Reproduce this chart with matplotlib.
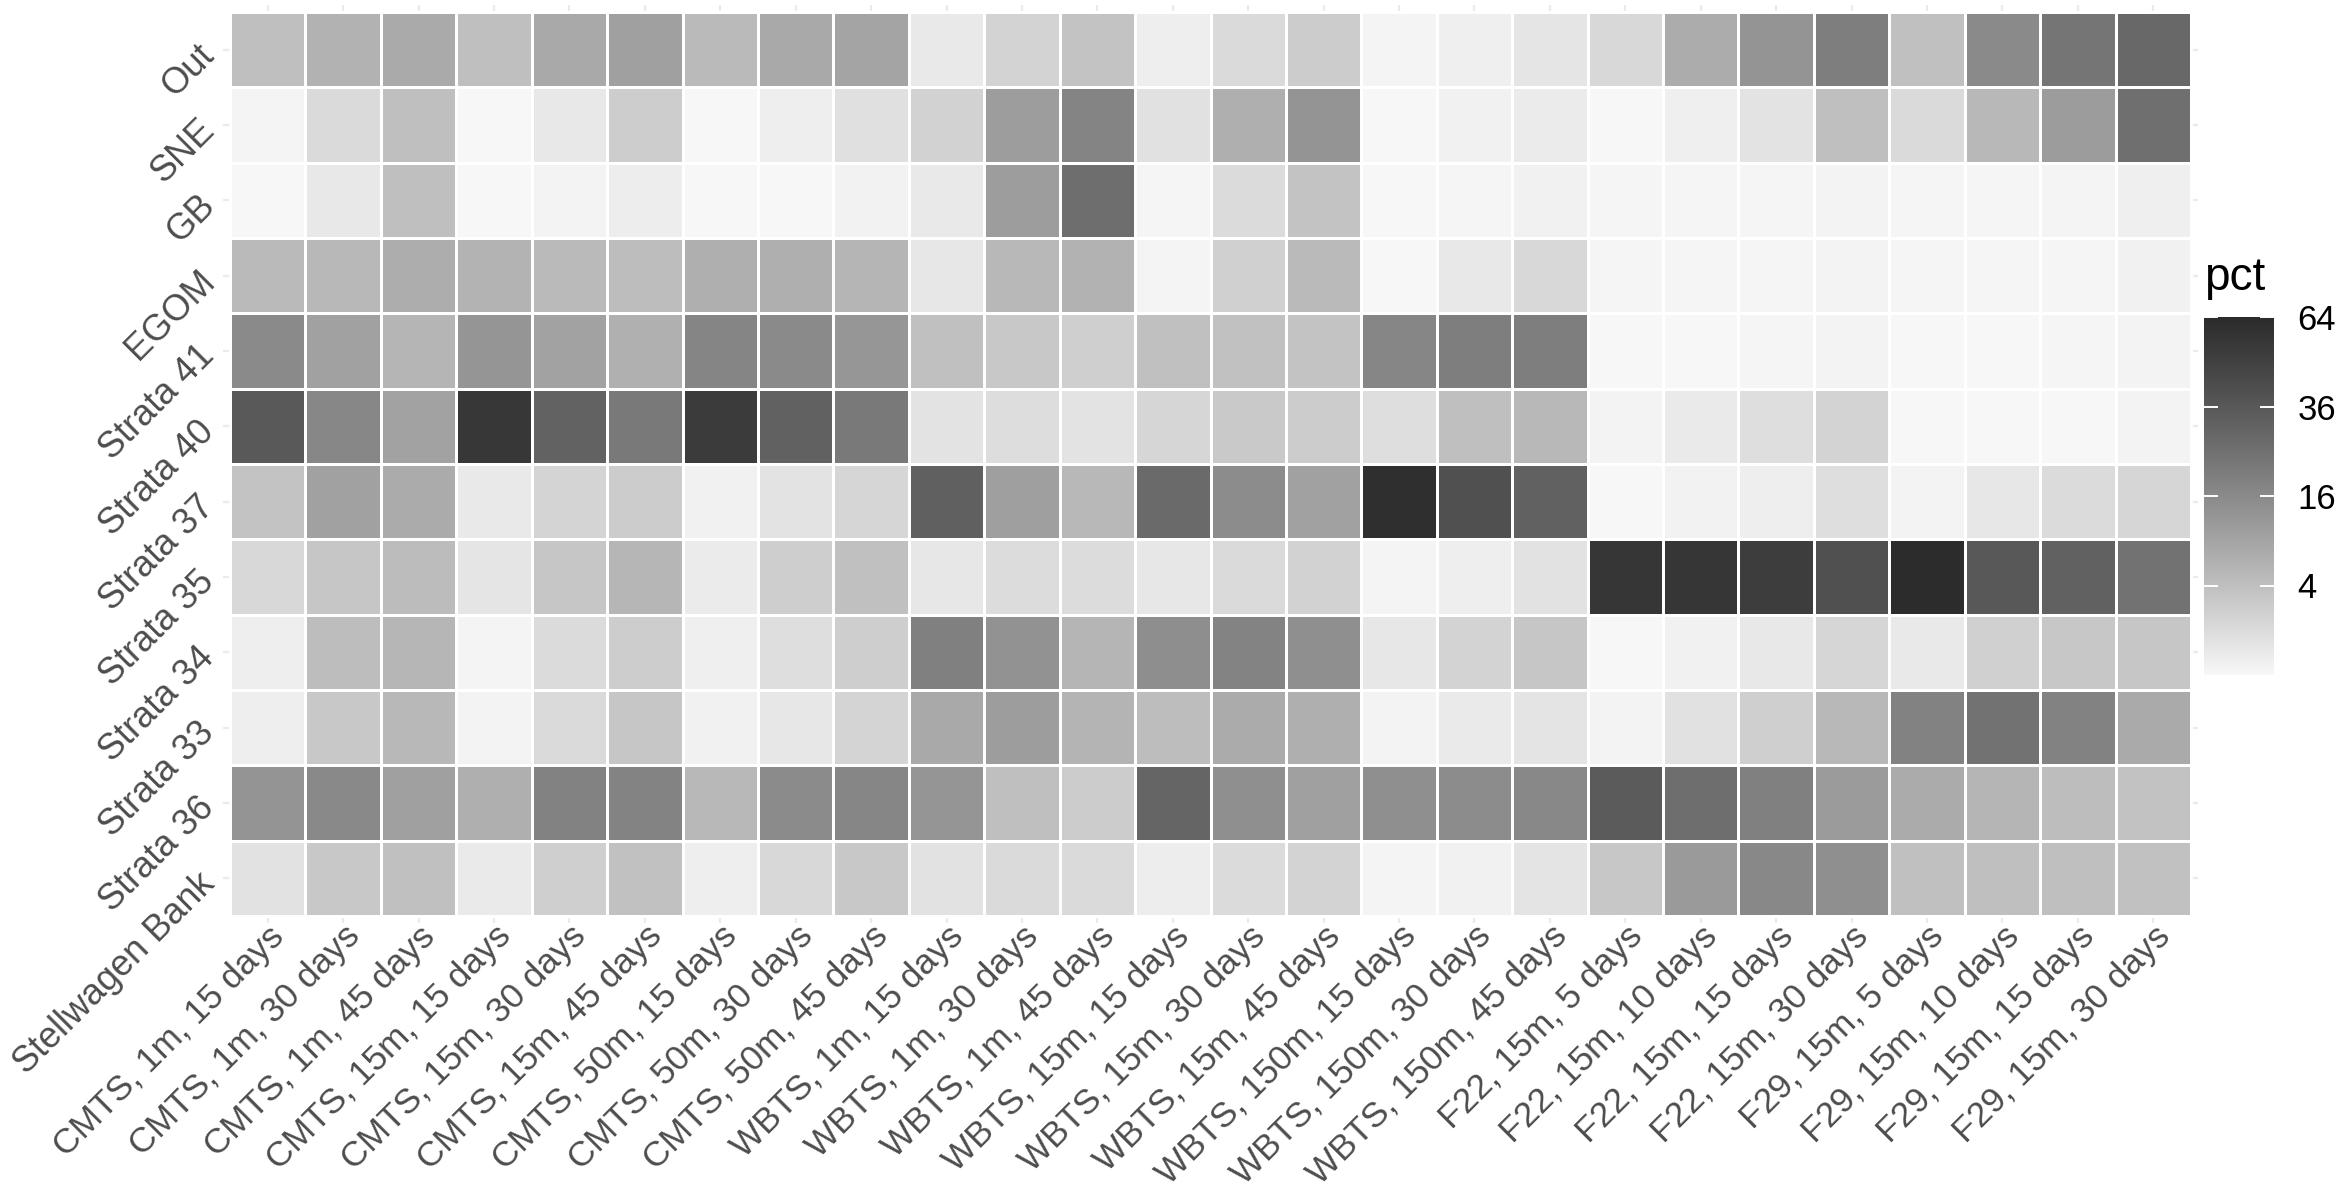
import numpy as np
import matplotlib
matplotlib.use("Agg")
import matplotlib.pyplot as plt
from matplotlib.colors import ListedColormap, PowerNorm

# ---------------- data ----------------
columns = ["CMTS, 1m, 15 days", "CMTS, 1m, 30 days", "CMTS, 1m, 45 days",
           "CMTS, 15m, 15 days", "CMTS, 15m, 30 days", "CMTS, 15m, 45 days",
           "CMTS, 50m, 15 days", "CMTS, 50m, 30 days", "CMTS, 50m, 45 days",
           "WBTS, 1m, 15 days", "WBTS, 1m, 30 days", "WBTS, 1m, 45 days",
           "WBTS, 15m, 15 days", "WBTS, 15m, 30 days", "WBTS, 15m, 45 days",
           "WBTS, 150m, 15 days", "WBTS, 150m, 30 days", "WBTS, 150m, 45 days",
           "F22, 15m, 5 days", "F22, 15m, 10 days", "F22, 15m, 15 days", "F22, 15m, 30 days",
           "F29, 15m, 5 days", "F29, 15m, 10 days", "F29, 15m, 15 days", "F29, 15m, 30 days"]

rows = ["Out", "SNE", "GB", "EGOM", "Strata 41", "Strata 40", "Strata 37",
        "Strata 35", "Strata 34", "Strata 33", "Strata 36", "Stellwagen Bank"]

out   = [4.1, 6.1, 7.7, 4.0, 7.9, 9.9, 4.7, 7.9, 9.0, 0.28, 1.6, 3.4, 0.1,
         1.1, 2.4, 0.01, 0.08, 0.4, 1.2, 7.3, 13.0, 19.9, 3.8, 15.9, 23.2, 28.5]
sne   = [0.01, 1.1, 4.0, 0, 0.31, 2.3, 0, 0.1, 0.7, 1.8, 10.6, 17.9, 0.65,
         6.7, 13.0, 0, 0.05, 0.17, 0, 0.08, 0.5, 4.1, 1.1, 5.2, 10.8, 25.6]
gb    = [0, 0.31, 4.1, 0, 0.02, 0.12, 0, 0, 0.04, 0.25, 10.6, 26.0, 0.005,
         0.95, 3.5, 0, 0.005, 0.05, 0.005, 0.005, 0.005, 0.03, 0.005, 0.005, 0.01, 0.08]
egom  = [4.7, 5.2, 7.1, 6.0, 4.9, 4.3, 6.7, 6.7, 5.6, 0.35, 5.1, 6.1, 0.01,
         1.9, 4.9, 0, 0.3, 1.2, 0.005, 0.005, 0.005, 0.02, 0.005, 0.005, 0.005, 0.06]
s41   = [15.9, 9.6, 5.6, 12.7, 9.4, 6.5, 17.5, 15.9, 12.4, 3.8, 2.8, 2.0, 3.8,
         3.7, 3.4, 17.2, 19.9, 19.9, 0, 0, 0.005, 0.03, 0, 0, 0.005, 0.03]
s40   = [35.6, 16.9, 9.4, 55.4, 31.2, 21.4, 52.8, 31.6, 21.4, 0.5, 0.85, 0.5, 1.35,
         2.7, 2.4, 0.8, 4.0, 5.1, 0.03, 0.2, 0.8, 1.6, 0, 0, 0, 0.02]
s37   = [3.4, 9.6, 7.5, 0.28, 1.5, 2.4, 0.05, 0.5, 1.35, 32.1, 10.1, 5.1, 27.7,
         15.3, 9.6, 61.0, 40.2, 31.6, 0, 0.04, 0.1, 0.8, 0.02, 0.35, 0.95, 1.4]
s35   = [1.2, 3.1, 4.4, 0.4, 3.0, 5.4, 0.17, 2.1, 3.8, 0.35, 0.9, 0.9, 0.35,
         1.1, 1.8, 0.01, 0.1, 0.55, 56.1, 56.1, 51.5, 40.2, 63.0, 36.1, 31.6, 24.4]
s34   = [0.1, 4.3, 5.4, 0.01, 0.95, 2.2, 0.08, 0.8, 2.1, 19.2, 13.5, 5.6, 14.7,
         18.2, 14.4, 0.35, 1.7, 3.1, 0, 0.06, 0.3, 1.4, 0.25, 1.9, 2.9, 3.0]
s33   = [0.1, 2.8, 5.1, 0.03, 1.1, 3.1, 0.05, 0.35, 1.5, 7.9, 10.6, 5.9, 4.3,
         7.5, 6.7, 0.03, 0.2, 0.45, 0.03, 0.65, 2.0, 5.2, 18.5, 24.4, 18.5, 7.7]
s36   = [13.0, 16.2, 9.9, 6.7, 18.5, 18.2, 5.1, 15.6, 17.2, 12.7, 4.1, 2.4, 29.8,
         14.4, 9.9, 14.4, 15.3, 16.6, 34.6, 26.0, 19.2, 11.1, 7.5, 5.6, 4.3, 3.6]
stell = [0.6, 2.8, 3.8, 0.2, 2.0, 3.7, 0.1, 1.2, 2.8, 0.55, 1.1, 1.1, 0.12,
         0.95, 1.6, 0.01, 0.06, 0.45, 2.9, 11.6, 16.6, 14.4, 3.8, 4.0, 4.1, 3.7]

legend_ticks = [4, 16, 36, 64]
vmin, vmax = 0, 64

# ---------------- colour scale (grey gradient interpolated in CIELAB L) ----------------
def gray_to_L(g):
    c = g / 255.0
    lin = c / 12.92 if c <= 0.04045 else ((c + 0.055) / 1.055) ** 2.4
    f = lin ** (1 / 3) if lin > (6 / 29) ** 3 else lin / (3 * (6 / 29) ** 2) + 4 / 29
    return 116 * f - 16

def L_to_gray(L):
    fy = (L + 16) / 116
    Y = fy ** 3 if fy > 6 / 29 else 3 * (6 / 29) ** 2 * (fy - 4 / 29)
    c = 12.92 * Y if Y <= 0.0031308 else 1.055 * Y ** (1 / 2.4) - 0.055
    return min(max(c, 0), 1)

L_low, L_high = gray_to_L(0xF7), gray_to_L(0x2B)
grays = [L_to_gray(L_low + t * (L_high - L_low)) for t in np.linspace(0, 1, 256)]
cmap = ListedColormap([(g, g, g) for g in grays])
norm = PowerNorm(gamma=0.5, vmin=vmin, vmax=vmax)

data = np.array([out, sne, gb, egom, s41, s40, s37, s35, s34, s33, s36, stell])

# ---------------- figure ----------------
W, H = 2341, 1195
plt.rcParams["font.family"] = ["Liberation Sans", "DejaVu Sans"]
fig = plt.figure(figsize=(W / 100, H / 100), dpi=100)

ax = fig.add_axes([223 / W, 1 - 923 / H, (2198 - 223) / W, (923 - 5) / H])
ex, ey = 7 / 75.4, 7 / 75.3
ax.set_xlim(-0.5 - ex, len(columns) - 0.5 + ex)
ax.set_ylim(len(rows) - 0.5 + ey, -0.5 - ey)

mesh = ax.pcolormesh(np.arange(len(columns) + 1) - 0.5, np.arange(len(rows) + 1) - 0.5,
                     data, cmap=cmap, norm=norm, edgecolors="white", linewidth=0.9)

ax.set_axisbelow(True)
ax.grid(True, color="#EBEBEB", linewidth=1.6)
for s in ax.spines.values():
    s.set_visible(False)

ax.set_xticks(np.arange(len(columns)))
ax.set_xticklabels(columns, rotation=45, ha="right", rotation_mode="anchor")
ax.set_yticks(np.arange(len(rows)))
ax.set_yticklabels(rows, rotation=45, rotation_mode="anchor", va="center", ha="right")
ax.tick_params(axis="both", length=0, labelcolor="#4D4D4D")
ax.tick_params(axis="x", pad=-2.5, labelsize=25.3)
ax.tick_params(axis="y", pad=10, labelsize=26)

# legend
cax = fig.add_axes([2204 / W, 1 - 675 / H, 70 / W, 358 / H])
cb = fig.colorbar(mesh, cax=cax, ticks=legend_ticks)
cb.outline.set_visible(False)
cax.tick_params(length=0, labelsize=25, pad=17, labelcolor="black")
for v in legend_ticks:
    cax.plot([0, 0.2], [v, v], color="white", lw=1.4, solid_capstyle="butt", clip_on=False)
    cax.plot([0.8, 1.0], [v, v], color="white", lw=1.4, solid_capstyle="butt", clip_on=False)
cax.set_xlim(0, 1)
fig.text(2204 / W, 1 - 290 / H, "pct", fontsize=33, va="baseline", ha="left", color="black")

fig.savefig("out.png", dpi=100, facecolor="white")
